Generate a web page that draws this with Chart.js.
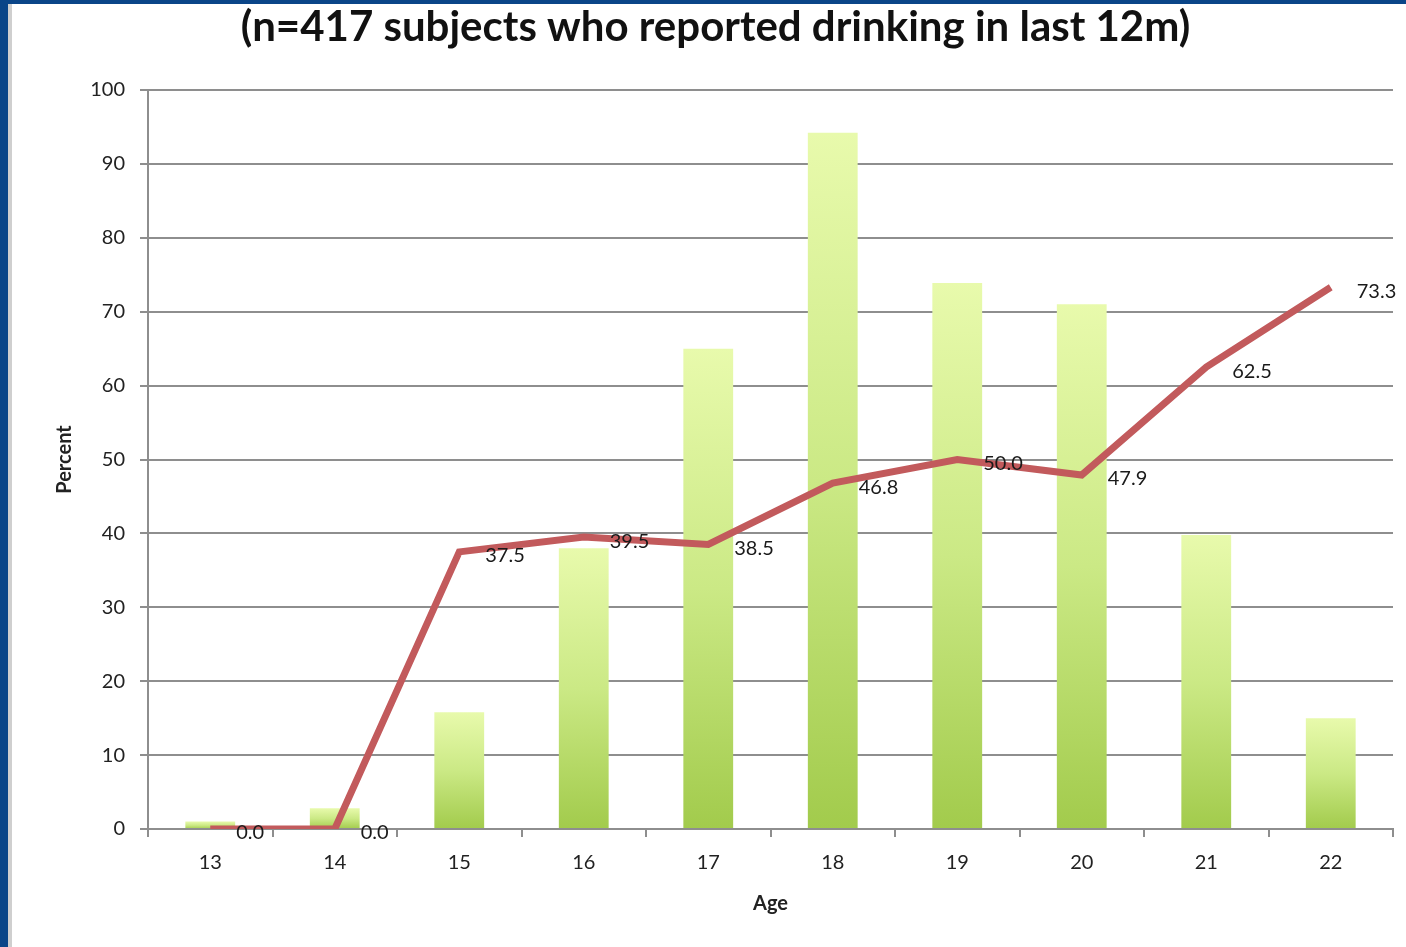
<!DOCTYPE html>
<html>
<head>
<meta charset="utf-8">
<script src="https://cdn.jsdelivr.net/npm/chart.js@4"></script>
<style>
  html, body { margin: 0; padding: 0; background: #fff; }
  #wrap { position: relative; width: 1406px; height: 947px; overflow: hidden; }
  #edge-left { position: absolute; left: 0; top: 0; width: 8px; height: 947px; background: #0a4588; }
  #edge-grey { position: absolute; left: 8px; top: 4px; width: 4px; height: 943px; background: #cfcfcf; }
  #edge-top { position: absolute; left: 0; top: 0; width: 1406px; height: 4px; background: #0a4588; }
  canvas { position: absolute; left: 0; top: 0; }
</style>
</head>
<body>
<div id="wrap">
  <canvas id="my-chart" width="1406" height="947"></canvas>
  <div id="edge-left"></div>
  <div id="edge-grey"></div>
  <div id="edge-top"></div>
</div>
<script>
const ages = ['13', '14', '15', '16', '17', '18', '19', '20', '21', '22'];
const barValues = [1, 2.8, 15.8, 38, 65, 94.2, 73.9, 71, 39.8, 15];
const lineValues = [0.0, 0.0, 37.5, 39.5, 38.5, 46.8, 50.0, 47.9, 62.5, 73.3];
const yTicks = [0, 10, 20, 30, 40, 50, 60, 70, 80, 90, 100];

const fontFamily = 'Lato, "Open Sans", sans-serif';
const gridGrey = '#8e8e8e';

// gradient for each bar, light on top and greener at the base
function barGradient(context) {
  const chart = context.chart;
  if (!chart.chartArea || !chart.scales.y) return '#c4e27a';
  const y = chart.scales.y;
  const top = y.getPixelForValue(context.raw);
  const bottom = y.getPixelForValue(0);
  if (!isFinite(top) || top === bottom) return '#c4e27a';
  const g = chart.ctx.createLinearGradient(0, top, 0, bottom);
  g.addColorStop(0, '#e8faac');
  g.addColorStop(0.5, '#cbe985');
  g.addColorStop(1, '#a2cb4c');
  return g;
}

// value labels next to the line points
const lineLabels = {
  id: 'lineLabels',
  afterDatasetsDraw(chart) {
    const meta = chart.getDatasetMeta(1);
    const ctx = chart.ctx;
    ctx.save();
    ctx.font = '20px ' + fontFamily;
    ctx.fillStyle = '#1a1a1a';
    ctx.textAlign = 'left';
    ctx.textBaseline = 'middle';
    meta.data.forEach((pt, i) => {
      ctx.fillText(lineValues[i].toFixed(1), pt.x + 26, pt.y + 4);
    });
    ctx.restore();
  }
};

const ctx = document.getElementById('my-chart').getContext('2d');
const chart = new Chart(ctx, {
  type: 'bar',
  data: {
    labels: ages,
    datasets: [
      {
        type: 'bar',
        data: barValues,
        backgroundColor: barGradient,
        barPercentage: 0.4,
        categoryPercentage: 1,
        order: 2
      },
      {
        type: 'line',
        data: lineValues,
        borderColor: '#c25a5c',
        borderWidth: 7,
        pointRadius: 0,
        tension: 0,
        order: 1
      }
    ]
  },
  options: {
    responsive: false,
    animation: false,
    layout: { padding: { left: 38, right: 13, top: 0, bottom: 0 } },
    plugins: {
      legend: { display: false },
      tooltip: { enabled: false },
      title: {
        display: true,
        text: '(n=417 subjects who reported drinking in last 12m)',
        color: '#111',
        font: { family: fontFamily, size: 42, weight: 'bold' },
        padding: { top: 2, bottom: 37.6 }
      }
    },
    scales: {
      x: {
        offset: true,
        grid: { display: true, drawOnChartArea: false, offset: true, tickLength: 8, color: gridGrey, lineWidth: 2 },
        border: { color: gridGrey, width: 2 },
        ticks: { color: '#222', padding: 14, font: { family: fontFamily, size: 20 } },
        title: { display: true, text: 'Age', color: '#222', font: { family: fontFamily, size: 20, weight: 'bold' }, padding: { top: 0, bottom: 31 } },
        afterFit: s => { s.height = 118; }
      },
      y: {
        min: 0,
        max: 100,
        afterBuildTicks: s => { s.ticks = yTicks.map(v => ({ value: v })); },
        grid: { color: gridGrey, lineWidth: 2, tickLength: 8 },
        border: { color: gridGrey, width: 2 },
        ticks: { color: '#222', padding: 15, font: { family: fontFamily, size: 20 } },
        title: { display: true, text: 'Percent', color: '#222', font: { family: fontFamily, size: 20, weight: 'bold' }, padding: { top: 15, bottom: 0 } },
        afterFit: s => { s.width = 110; }
      }
    }
  },
  plugins: [lineLabels]
});
</script>
</body>
</html>
